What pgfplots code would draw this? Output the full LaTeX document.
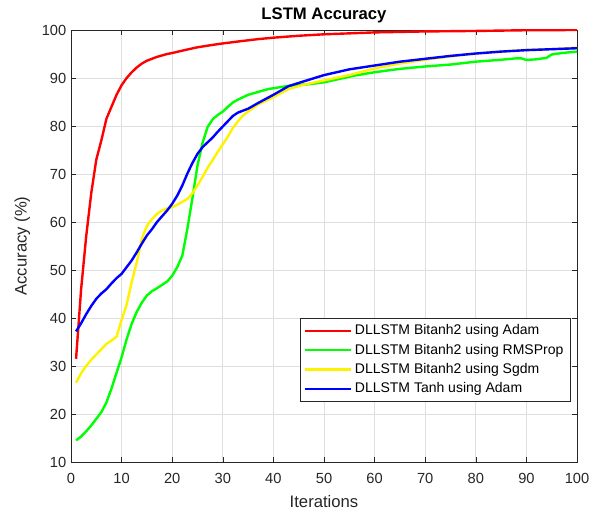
\documentclass[border=0pt]{standalone}
\usepackage{pgfplots}
\pgfplotsset{compat=1.18}
\usepackage{fontspec}
\setmainfont{Liberation Sans}

\definecolor{axgray}{gray}{0.15}

\begin{document}
\begin{tikzpicture}
  \begin{axis}[
      name=ax,
      scale only axis,
      width=379.5pt, height=324pt,
      xmin=0, xmax=100, ymin=10, ymax=100,
      xtick={0,10,...,100},
      ytick={10,20,...,100},
      /pgf/number format/assume math mode=true,
      tick label style={font=\fontsize{11}{13}\selectfont, color=axgray},
      xticklabel style={yshift=-5pt},
      label style={font=\fontsize{12.5}{15}\selectfont, color=axgray},
      xlabel={Iterations},
      ylabel={Accuracy (\%)},
      xlabel style={yshift=-2pt},
      ylabel style={yshift=2pt},
      title={\textbf{LSTM Accuracy}},
      title style={font=\fontsize{12.5}{15}\selectfont, yshift=-4pt},
      grid=major,
      major grid style={gray!25, line width=0.5pt},
      axis line style={axgray, line width=0.6pt},
      tick style={axgray},
      tick align=inside,
      major tick length=4pt,
      every axis plot/.append style={line width=1.8pt},
      legend style={
        at={(axis cs:98.7,22.5)}, anchor=south east,
        font=\fontsize{10.5}{12}\selectfont,
        draw=axgray, line width=0.5pt,
        row sep=1.4pt,
        inner sep=3pt,
      },
      legend cell align=left,
      legend image code/.code={\draw[#1, line width=1.8pt] (0cm,0cm) -- (1.2cm,0cm);},
    ]
    % red: DLLSTM Bitanh2 using Adam
    \addplot[red] coordinates {
      (1,31.5) (2,46) (3,57) (4,66) (5,73) (6,77) (7,81.5) (8,84) (9,86.5)
      (10,88.5) (11,90) (12,91.2) (13,92.2) (14,93) (15,93.6) (16,94) (17,94.4)
      (18,94.7) (19,95) (20,95.2) (22,95.7) (25,96.4) (28,96.9) (30,97.2)
      (33,97.6) (37,98.1) (40,98.4) (45,98.8) (50,99.1) (55,99.3) (60,99.5)
      (70,99.7) (80,99.8) (90,99.95) (100,100)
    };
    % green: DLLSTM Bitanh2 using RMSProp
    \addplot[green] coordinates {
      (1,14.5) (2,15.3) (3,16.4) (4,17.6) (5,19) (6,20.4) (7,22.4) (8,25.3)
      (9,28.6) (10,31.8) (11,35.6) (12,38.8) (13,41.3) (14,43.2) (15,44.7)
      (16,45.6) (17,46.2) (18,46.9) (19,47.6) (20,48.8) (21,50.6) (22,53)
      (23,58.6) (24,65) (25,71.8) (26,76.5) (27,79.8) (28,81.4) (29,82.3)
      (30,83) (31,84) (32,84.9) (33,85.5) (35,86.5) (37,87.1) (39,87.7)
      (42,88.2) (44,88.5) (47,88.7) (50,89.1) (53,89.8) (56,90.5) (60,91.2)
      (65,91.9) (70,92.4) (75,92.8) (80,93.4) (85,93.8) (88,94.1) (89,94.1)
      (90,93.75) (92,93.9) (94,94.2) (95,94.9) (97,95.2) (100,95.5)
    };
    % yellow: DLLSTM Bitanh2 using Sgdm
    \addplot[yellow] coordinates {
      (1,26.5) (2,28.5) (3,30) (4,31.3) (5,32.4) (6,33.5) (7,34.6) (8,35.3)
      (9,36.1) (10,39.6) (11,42.8) (12,47.5) (13,51.6) (14,56.5) (15,59.2)
      (16,60.6) (17,61.7) (18,62.4) (19,62.8) (20,63.1) (21,63.6) (22,64.2)
      (23,64.8) (24,66) (25,67.6) (26,69.4) (27,71.3) (28,72.9) (29,74.6)
      (30,76.2) (31,77.8) (32,79.6) (33,81) (34,82.2) (35,83) (37,84.5)
      (40,86) (43,87.7) (46,88.6) (50,89.5) (55,90.6) (60,92) (65,93)
      (70,93.8) (75,94.5) (80,95.1) (85,95.5) (90,95.9) (95,96) (100,96.3)
    };
    % blue: DLLSTM Tanh using Adam
    \addplot[blue] coordinates {
      (1,37.2) (2,38.9) (3,40.8) (4,42.5) (5,44) (6,45.1) (7,46) (8,47.2)
      (9,48.3) (10,49.2) (11,50.6) (12,52) (13,53.7) (14,55.5) (15,57.2)
      (16,58.5) (17,60) (18,61.2) (19,62.4) (20,63.8) (21,65.5) (22,67.6)
      (23,70.1) (24,72.3) (25,74.2) (26,75.6) (27,76.6) (28,77.6) (29,78.8)
      (30,79.9) (31,81) (32,82.1) (33,82.8) (35,83.6) (37,84.8) (40,86.5)
      (43,88.3) (46,89.3) (50,90.6) (55,91.8) (60,92.6) (65,93.4)
      (70,94) (75,94.6) (80,95.1) (85,95.5) (90,95.8) (95,96) (100,96.2)
    };
    \legend{DLLSTM Bitanh2 using Adam, DLLSTM Bitanh2 using RMSProp,
            DLLSTM Bitanh2 using Sgdm, DLLSTM Tanh using Adam}
  \end{axis}
  \path ([shift={(-53.25pt,-37.5pt)}]ax.south west) rectangle ([shift={(21pt,22.5pt)}]ax.north east);
\end{tikzpicture}
\end{document}
